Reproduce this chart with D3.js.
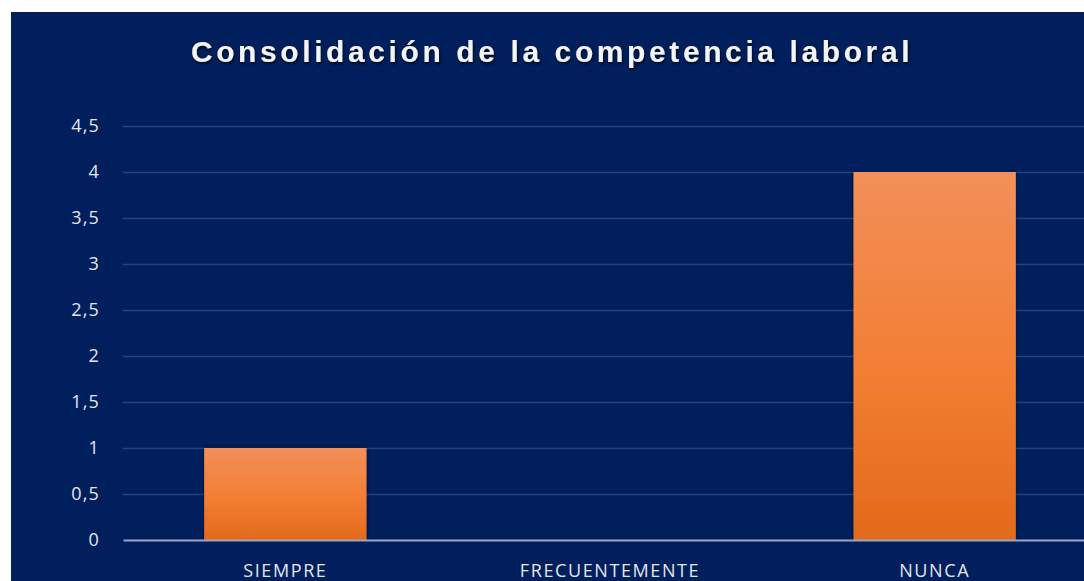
<!DOCTYPE html>
<html lang="es">
<head>
<meta charset="utf-8">
<title>Consolidación de la competencia laboral</title>
<script src="https://d3js.org/d3.v7.min.js"></script>
<style>
  html, body { margin: 0; padding: 0; background: #fff; }
  svg { display: block; }
</style>
</head>
<body>
<script>
// data
var categories = ["SIEMPRE", "FRECUENTEMENTE", "NUNCA"];
var values = [1, 0, 4];
var yTicks = [0, 0.5, 1, 1.5, 2, 2.5, 3, 3.5, 4, 4.5];
var tickLabels = ["0", "0,5", "1", "1,5", "2", "2,5", "3", "3,5", "4", "4,5"];
var title = "Consolidación de la competencia laboral";

var W = 1084, H = 581;
var svg = d3.select("body").append("svg").attr("width", W).attr("height", H);

var defs = svg.append("defs");
var grad = defs.append("linearGradient").attr("id", "barGrad")
    .attr("x1", 0).attr("y1", 0).attr("x2", 0).attr("y2", 1);
grad.append("stop").attr("offset", "0%").attr("stop-color", "#f28f5a");
grad.append("stop").attr("offset", "55%").attr("stop-color", "#f27e32");
grad.append("stop").attr("offset", "100%").attr("stop-color", "#e3691a");

var shadow = defs.append("filter").attr("id", "barShadow")
    .attr("x", "-10%").attr("y", "-10%").attr("width", "120%").attr("height", "120%");
shadow.append("feDropShadow").attr("dx", 0).attr("dy", 0).attr("stdDeviation", 2.5)
    .attr("flood-color", "#000").attr("flood-opacity", 0.45);

var tshadow = defs.append("filter").attr("id", "titleShadow")
    .attr("x", "-5%").attr("y", "-30%").attr("width", "110%").attr("height", "160%");
tshadow.append("feDropShadow").attr("dx", 1).attr("dy", 2).attr("stdDeviation", 1.5)
    .attr("flood-color", "#000").attr("flood-opacity", 0.7);

defs.append("clipPath").attr("id", "panelClip")
    .append("rect").attr("x", 11).attr("y", 12).attr("width", W - 11).attr("height", H - 12);

// panel
svg.append("rect").attr("x", 11).attr("y", 12).attr("width", W - 11).attr("height", H - 12)
    .attr("fill", "#011f5c");

var g = svg.append("g").attr("clip-path", "url(#panelClip)");

var x = d3.scaleBand().domain(categories).range([123, 1097])
    .paddingInner(0.5).paddingOuter(0.25);
var y = d3.scaleLinear().domain([0, 4.5]).range([540, 126]);

// grid
var yAxis = d3.axisLeft(y).tickValues(yTicks)
    .tickSize(-(1097 - 123))
    .tickFormat(function(d, i) { return tickLabels[i]; })
    .tickPadding(23);

var ya = g.append("g").attr("transform", "translate(123,0)").call(yAxis);
ya.select(".domain").remove();
ya.selectAll(".tick line").attr("stroke", "#25427c").attr("stroke-width", 1.5)
    .filter(function(d) { return d === 0; }).remove();
ya.selectAll(".tick text")
    .attr("fill", "#e4e6ec")
    .style("font-family", "'Open Sans', sans-serif")
    .style("font-size", "18px")
    .style("letter-spacing", "1.2px");

// bars
g.selectAll("rect.bar")
    .data(values)
    .enter()
    .append("rect")
    .attr("class", "bar")
    .attr("x", function(d, i) { return x(categories[i]); })
    .attr("width", x.bandwidth())
    .attr("y", function(d) { return y(d); })
    .attr("height", function(d) { return y(0) - y(d); })
    .attr("fill", "url(#barGrad)")
    .attr("filter", "url(#barShadow)")
    .style("display", function(d) { return d > 0 ? null : "none"; });

// x axis
var xAxis = d3.axisBottom(x).tickSize(0).tickPadding(24);
var xa = g.append("g").attr("transform", "translate(0,540)").call(xAxis);
xa.select(".domain").attr("stroke", "#9aa7c6").attr("stroke-width", 2);
xa.selectAll(".tick text")
    .attr("fill", "#e4e6ec")
    .style("font-family", "'Open Sans', sans-serif")
    .style("font-size", "18px")
    .style("letter-spacing", "1.6px");

// title
svg.append("text")
    .attr("x", 552)
    .attr("y", 62)
    .attr("text-anchor", "middle")
    .attr("fill", "#f4f4f4")
    .attr("filter", "url(#titleShadow)")
    .style("font-family", "'Liberation Sans', Arial, sans-serif")
    .style("font-weight", "bold")
    .style("font-size", "30px")
    .style("letter-spacing", "3.6px")
    .text(title);
</script>
</body>
</html>
